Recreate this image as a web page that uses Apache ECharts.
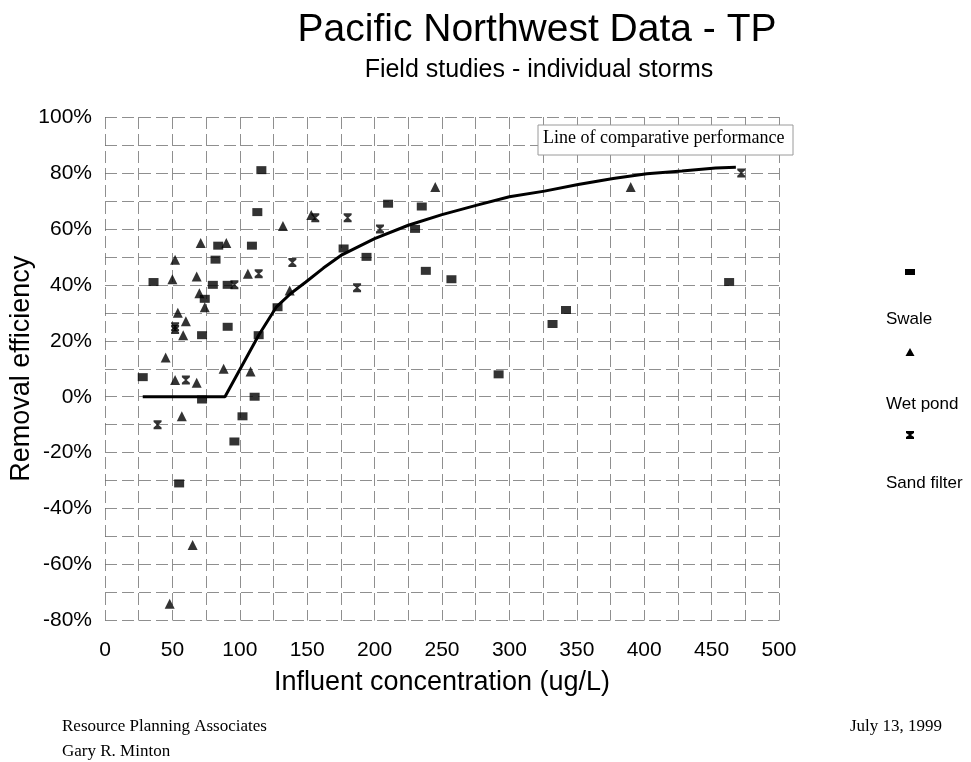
<!DOCTYPE html>
<html>
<head>
<meta charset="utf-8">
<script src="https://cdn.jsdelivr.net/npm/echarts@6/dist/echarts.min.js"></script>
<style>html,body{margin:0;padding:0;background:#fff}#c{width:971px;height:762px}</style>
</head>
<body>
<div id="c"></div>
<script>
// ---- data ----
const seriesNames = ['Swale', 'Wet pond', 'Sand filter'];
const swale = [[28,7],[36,41],[116,81],[113,66],[84,54],[109,54],[82,49],[80,40],[91,40],[74,35],[91,25],[72,22],[72,-1],[111,0],[102,-7],[96,-16],[55,-31],[114,22],[128,32],[210,69],[235,68],[230,60],[177,53],[194,50],[238,45],[257,42],[292,8],[332,26],[342,31],[463,41]];
const wetPond = [[71,55],[90,55],[52,49],[106,44],[50,42],[68,43],[70,37],[74,32],[54,30],[60,27],[58,22],[45,14],[88,10],[108,9],[52,6],[68,5],[57,-7],[65,-53],[48,-74],[245,75],[153,65],[132,61],[137,38],[390,75]];
const sandFilter = [[114,44],[96,40],[52,25],[52,24],[60,6],[39,-10],[156,64],[180,64],[204,60],[139,48],[187,39],[472,80]];
const curve = [[28,0],[89,0],[114,22],[127,32],[138,37],[149,41],[162,46],[175,50.5],[200,56.5],[225,61.3],[250,65.1],[276,68.5],[300,71.5],[326,73.5],[351,75.9],[377,78],[402,79.7],[428,80.7],[453,81.8],[468,82]];
const curveName = 'Line of comparative performance';
const xTicks = [0,50,100,150,200,250,300,350,400,450,500];
const yTicks = [-80,-60,-40,-20,0,20,40,60,80,100];

const SANS = 'Liberation Sans, Arial, sans-serif';
const SERIF = 'Liberation Serif, Times New Roman, serif';
const hourglass = 'path://M0,0H10V2L6,5L10,8V10H0V8L4,5L0,2Z';
const symbols = ['rect', 'triangle', hourglass];
const symSizes = [[10,8], 10, [8,9]];

const chart = echarts.init(document.getElementById('c'), null, {renderer: 'canvas'});
const gridLine = {show: true, lineStyle: {color: '#6a6a6a', width: 1, type: [12, 5], opacity: 0.75}};

const legendGraphics = [];
const legendTextY = [320, 405, 484];
seriesNames.forEach((n, i) => {
  legendGraphics.push({
    type: 'text', x: 886, y: legendTextY[i] - 9,
    style: {text: n, font: '17px ' + SANS, fill: '#000'}
  });
});

const option = {
  backgroundColor: '#fff',
  animation: false,
  title: [
    {text: 'Pacific Northwest Data - TP', left: 532, top: 6, textAlign: 'center',
     textStyle: {fontFamily: SANS, fontSize: 39, fontWeight: 'normal', color: '#000'}},
    {text: 'Field studies - individual storms', left: 534, top: 53, textAlign: 'center',
     textStyle: {fontFamily: SANS, fontSize: 25, fontWeight: 'normal', color: '#000'}}
  ],
  grid: {left: 105, right: 192, top: 117, bottom: 141.5, containLabel: false, outerBoundsMode: 'none'},
  xAxis: {
    type: 'value', min: 0, max: 500, interval: 25,
    name: 'Influent concentration (ug/L)', nameLocation: 'middle', nameGap: 49,
    nameTextStyle: {fontFamily: SANS, fontSize: 27, color: '#000'},
    axisLine: {show: false}, axisTick: {show: false},
    axisLabel: {margin: 19, fontFamily: SANS, fontSize: 21, color: '#000',
      formatter: v => xTicks.includes(v) ? String(v) : ''},
    splitLine: gridLine
  },
  yAxis: {
    type: 'value', min: -80, max: 100, interval: 10,
    name: 'Removal efficiency', nameLocation: 'middle', nameGap: 70, nameMoveOverlap: false,
    nameTextStyle: {fontFamily: SANS, fontSize: 27, color: '#000'},
    axisLine: {show: false}, axisTick: {show: false},
    axisLabel: {margin: 13, fontFamily: SANS, fontSize: 21, color: '#000',
      formatter: v => yTicks.includes(v) ? v + '%' : ''},
    splitLine: gridLine
  },
  series: [
    {name: curveName, type: 'line', data: curve, showSymbol: false, symbol: 'none',
     lineStyle: {color: '#000', width: 3}, z: 3, silent: true},
    {name: seriesNames[0], type: 'scatter', data: swale, symbol: symbols[0], symbolSize: symSizes[0],
     itemStyle: {color: '#000'}, z: 4},
    {name: seriesNames[1], type: 'scatter', data: wetPond, symbol: symbols[1], symbolSize: symSizes[1],
     itemStyle: {color: '#000'}, z: 4},
    {name: seriesNames[2], type: 'scatter', data: sandFilter, symbol: symbols[2], symbolSize: symSizes[2],
     itemStyle: {color: '#000'}, z: 4}
  ],
  graphic: [
    {type: 'rect', shape: {x: 538, y: 125, width: 255, height: 30},
     style: {fill: '#fff', stroke: '#9a9a9a', lineWidth: 1}, z: 10},
    {type: 'text', x: 543, y: 129,
     style: {text: curveName, font: '18px ' + SERIF, fill: '#000'}, z: 11},
    {type: 'rect', shape: {x: 905, y: 269, width: 10, height: 6}, style: {fill: '#000'}},
    {type: 'polygon', shape: {points: [[910,348],[914.5,356],[905.5,356]]}, style: {fill: '#000'}},
    {type: 'polygon', shape: {points: [[906,431],[914,431],[914,433],[911,435],[914,437],[914,439],[906,439],[906,437],[909,435],[906,433]]}, style: {fill: '#000'}},
    ...legendGraphics,
    {type: 'text', x: 62, y: 718, style: {text: 'Resource Planning Associates', font: '17px ' + SERIF, fill: '#000'}},
    {type: 'text', x: 62, y: 743, style: {text: 'Gary R. Minton', font: '17px ' + SERIF, fill: '#000'}},
    {type: 'text', x: 850, y: 718, style: {text: 'July 13, 1999', font: '17px ' + SERIF, fill: '#000'}}
  ]
};
chart.setOption(option);
</script>
</body>
</html>
